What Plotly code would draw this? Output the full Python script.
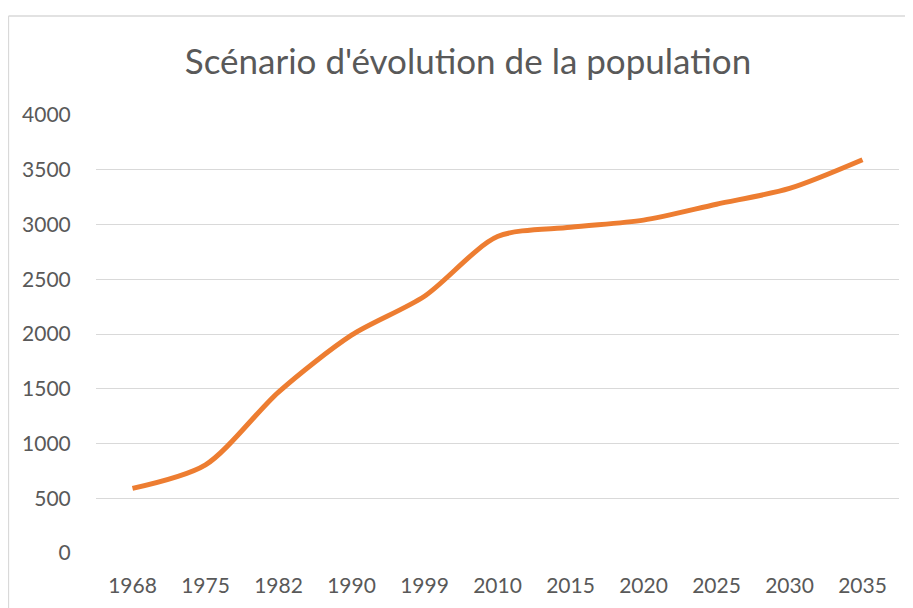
import plotly.graph_objects as go

years = ["1968", "1975", "1982", "1990", "1999", "2010", "2015", "2020", "2025", "2030", "2035"]
population = [590, 805, 1470, 1990, 2345, 2890, 2975, 3040, 3185, 3330, 3592]
y_ticks = [0, 500, 1000, 1500, 2000, 2500, 3000, 3500, 4000]

# page body has an 8px default margin; positions below are relative to the figure
W, H = 913, 608
L, R, T, B = 88, 22, 107, 63
pw, ph = W - L - R, H - T - B

fig = go.Figure()
fig.add_trace(go.Scatter(
    x=years, y=population, mode="lines",
    line=dict(color="#ED7D31", width=5, shape="spline", smoothing=0.8),
    hoverinfo="x+y", showlegend=False,
))

fig.update_layout(
    width=W, height=H,
    margin=dict(l=L, r=R, t=T, b=B),
    paper_bgcolor="white", plot_bgcolor="white",
    font=dict(family="Lato, Open Sans, sans-serif", color="#595959"),
    title=dict(text="Scénario d'évolution de la population",
               x=460 / W, xanchor="center", y=1 - 54 / H, yanchor="middle",
               xref="container", yref="container",
               font=dict(size=35, color="#595959")),
    xaxis=dict(type="category", range=[-0.5, len(years) - 0.5],
               showgrid=False, zeroline=False, showline=False,
               ticks="outside", ticklen=14, tickcolor="rgba(0,0,0,0)",
               tickfont=dict(size=21, color="#595959"), fixedrange=True),
    yaxis=dict(range=[0, 4000], tickvals=y_ticks,
               showgrid=True, gridcolor="#D9D9D9", gridwidth=1.3,
               zeroline=False, showline=False,
               ticks="outside", ticklen=20, tickcolor="rgba(0,0,0,0)",
               tickfont=dict(size=21, color="#595959"), fixedrange=True),
    shapes=[
        dict(type="line", xref="paper", yref="paper",
             x0=(0.5 - L) / pw, x1=(W + 5 - L) / pw,
             y0=(H - B - 8) / ph, y1=(H - B - 8) / ph,
             line=dict(color="#D9D9D9", width=1.3)),
        dict(type="line", xref="paper", yref="paper",
             x0=(0.5 - L) / pw, x1=(0.5 - L) / pw,
             y0=(H - B - 8) / ph, y1=(H - B - H - 5) / ph,
             line=dict(color="#D9D9D9", width=1.3)),
    ],
)

fig.write_html("out.html")
